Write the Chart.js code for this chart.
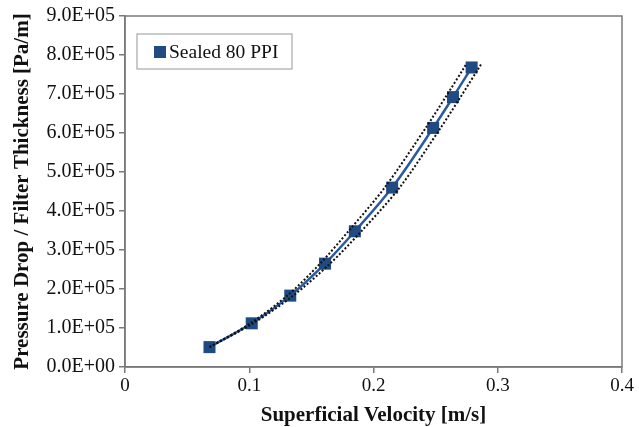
<!DOCTYPE html>
<html>
<head>
<meta charset="utf-8">
<script src="https://cdn.jsdelivr.net/npm/chart.js@4.4.1/dist/chart.umd.min.js"></script>
<style>
  html, body { margin: 0; padding: 0; background: #fff; }
  #wrap { width: 639px; height: 427px; }
</style>
</head>
<body>
<div id="wrap"><canvas id="dpChart" width="639" height="427"></canvas></div>
<script>
// measured points, Sealed 80 PPI
const velocity = [0.068, 0.102, 0.133, 0.161, 0.185, 0.215, 0.248, 0.264, 0.279]
const pressureDrop = [51000, 112000, 183000, 265000, 348000, 460000, 613000, 692000, 768000]

// dotted bounds around the fit
const upperVel = [0.068, 0.1008, 0.1306, 0.157, 0.1798, 0.209, 0.242, 0.258, 0.273, 0.275]
const upperDp = [51000, 112000, 183000, 265000, 348000, 460000, 613000, 692000, 768000, 779000]
const lowerVel = [0.068, 0.1032, 0.1354, 0.165, 0.1902, 0.221, 0.254, 0.270, 0.285, 0.2865]
const lowerDp = [51000, 112000, 183000, 265000, 348000, 460000, 613000, 692000, 768000, 776000]

const xTicks = [0, 0.1, 0.2, 0.3, 0.4]
const yTicks = [0, 100000, 200000, 300000, 400000, 500000, 600000, 700000, 800000, 900000]

const seriesLabel = 'Sealed 80 PPI'

const toPts = (xs, ys) => xs.map((x, i) => ({ x: x, y: ys[i] }))

function sci(v) {
    if (v === 0) return '0.0E+00'
    const e = Math.floor(Math.log10(v) + 1e-9)
    const m = v / Math.pow(10, e)
    return m.toFixed(1) + 'E+' + String(e).padStart(2, '0')
}

const frameColor = '#7a7a7a'
const navy = '#1f4a82'

// box round the plot + legend inside it
const framePlugin = {
    id: 'frame',
    afterDraw(chart) {
        const { ctx, chartArea: a } = chart
        ctx.save()
        ctx.strokeStyle = frameColor
        ctx.lineWidth = 1.5
        ctx.strokeRect(a.left, a.top, a.right - a.left, a.bottom - a.top)

        const lx = a.left + 12, ly = a.top + 18, lw = 155, lh = 35
        ctx.fillStyle = '#fff'
        ctx.fillRect(lx, ly, lw, lh)
        ctx.strokeStyle = '#a8a8a8'
        ctx.lineWidth = 1.2
        ctx.strokeRect(lx, ly, lw, lh)
        ctx.fillStyle = navy
        ctx.fillRect(lx + 17, ly + 12, 12, 12)
        ctx.fillStyle = '#111'
        ctx.font = '19.5px "Liberation Serif", serif'
        ctx.textBaseline = 'middle'
        ctx.fillText(seriesLabel, lx + 32, ly + lh / 2 + 1)
        ctx.restore()
    }
}

const xTickFont = { family: '"Liberation Serif", serif', size: 19 }
const yTickFont = { family: '"Liberation Serif", serif', size: 20 }
const titleFont = { family: '"Liberation Serif", serif', size: 21, weight: 'bold', lineHeight: 1 }

const ctx = document.getElementById('dpChart').getContext('2d')
const chart = new Chart(ctx, {
    type: 'scatter',
    data: {
        datasets: [
            {
                label: 'upper',
                data: toPts(upperVel, upperDp),
                showLine: true,
                borderColor: '#111',
                borderWidth: 2,
                borderDash: [2, 2],
                pointRadius: 0,
                tension: 0.3,
                order: 0
            },
            {
                label: 'lower',
                data: toPts(lowerVel, lowerDp),
                showLine: true,
                borderColor: '#111',
                borderWidth: 2,
                borderDash: [2, 2],
                pointRadius: 0,
                tension: 0.3,
                order: 0
            },
            {
                label: seriesLabel,
                data: toPts(velocity, pressureDrop),
                showLine: true,
                borderColor: '#2a5b9e',
                borderWidth: 2.5,
                backgroundColor: navy,
                pointStyle: 'rect',
                pointRadius: 8.5,
                pointBorderWidth: 0,
                pointBackgroundColor: navy,
                cubicInterpolationMode: 'monotone',
                order: 1
            }
        ]
    },
    options: {
        responsive: false,
        animation: false,
        events: [],
        layout: { padding: { top: 16, right: 17, left: 0, bottom: 0 } },
        plugins: {
            legend: { display: false },
            tooltip: { enabled: false }
        },
        scales: {
            x: {
                type: 'linear',
                min: 0,
                max: 0.4,
                afterBuildTicks: s => { s.ticks = xTicks.map(v => ({ value: v })) },
                afterFit: s => { s.height = 60 },
                grid: { drawOnChartArea: false, drawTicks: true, tickLength: 6, color: frameColor, lineWidth: 1.5 },
                border: { color: frameColor, width: 1.5 },
                ticks: {
                    color: '#111',
                    font: xTickFont,
                    padding: 2,
                    maxRotation: 0,
                    callback: v => String(Number(v.toFixed(1)))
                },
                title: {
                    display: true,
                    text: 'Superficial Velocity [m/s]',
                    color: '#111',
                    font: titleFont,
                    padding: { top: 0, bottom: 1 }
                }
            },
            y: {
                type: 'linear',
                min: 0,
                max: 900000,
                afterBuildTicks: s => { s.ticks = yTicks.map(v => ({ value: v })) },
                afterFit: s => { s.width = 125 },
                grid: { drawOnChartArea: false, drawTicks: true, tickLength: 6, color: frameColor, lineWidth: 1.5 },
                border: { color: frameColor, width: 1.5 },
                ticks: {
                    color: '#111',
                    font: yTickFont,
                    padding: 4,
                    callback: v => sci(v)
                },
                title: {
                    display: true,
                    text: 'Pressure Drop / Filter Thickness [Pa/m]',
                    color: '#111',
                    font: titleFont,
                    padding: { top: 12, bottom: 0 }
                }
            }
        }
    },
    plugins: [framePlugin]
})
</script>
</body>
</html>
